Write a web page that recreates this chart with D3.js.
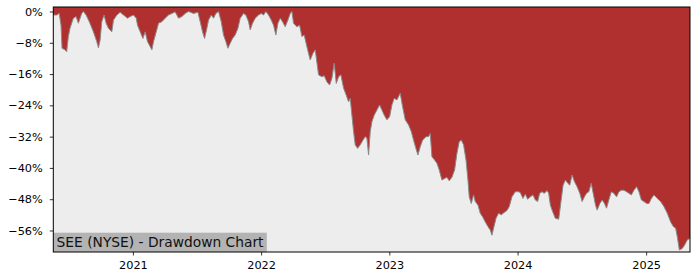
<!DOCTYPE html>
<html>
<head>
<meta charset="utf-8">
<script src="https://cdn.jsdelivr.net/npm/d3@7"></script>
<style>
  html, body { margin: 0; padding: 0; background: #fff; }
  svg { display: block; font-family: "DejaVu Sans", sans-serif; }
</style>
</head>
<body>
<div id="chart"></div>
<script>
// drawdown of SEE (decimal year, percent below peak)
const years = [
  2020.381, 2020.407, 2020.427, 2020.441, 2020.449, 2020.472, 2020.485, 2020.498, 2020.511, 2020.537,
  2020.558, 2020.576, 2020.602, 2020.615, 2020.636, 2020.661, 2020.693, 2020.719, 2020.732, 2020.745,
  2020.758, 2020.776, 2020.792, 2020.810, 2020.836, 2020.849, 2020.875, 2020.901, 2020.927, 2020.958,
  2020.979, 2021.005, 2021.026, 2021.036, 2021.057, 2021.078, 2021.096, 2021.114, 2021.135, 2021.148,
  2021.161, 2021.182, 2021.200, 2021.226, 2021.252, 2021.278, 2021.304, 2021.330, 2021.356, 2021.382,
  2021.408, 2021.434, 2021.473, 2021.507, 2021.525, 2021.543, 2021.559, 2021.577, 2021.590, 2021.611,
  2021.629, 2021.647, 2021.668, 2021.689, 2021.707, 2021.725, 2021.741, 2021.759, 2021.777, 2021.798,
  2021.819, 2021.837, 2021.863, 2021.881, 2021.902, 2021.915, 2021.933, 2021.954, 2021.980, 2022.001,
  2022.019, 2022.037, 2022.058, 2022.079, 2022.097, 2022.115, 2022.131, 2022.149, 2022.167, 2022.188,
  2022.209, 2022.227, 2022.240, 2022.253, 2022.279, 2022.300, 2022.318, 2022.336, 2022.357, 2022.383,
  2022.404, 2022.422, 2022.448, 2022.474, 2022.492, 2022.513, 2022.534, 2022.552, 2022.570, 2022.586,
  2022.604, 2022.622, 2022.643, 2022.664, 2022.682, 2022.695, 2022.708, 2022.721, 2022.734, 2022.752,
  2022.773, 2022.794, 2022.812, 2022.825, 2022.838, 2022.851, 2022.864, 2022.882, 2022.903, 2022.924,
  2022.942, 2022.960, 2022.981, 2023.002, 2023.020, 2023.038, 2023.059, 2023.085, 2023.103, 2023.124,
  2023.150, 2023.171, 2023.189, 2023.207, 2023.223, 2023.241, 2023.259, 2023.286, 2023.306, 2023.319,
  2023.332, 2023.353, 2023.371, 2023.389, 2023.410, 2023.431, 2023.449, 2023.467, 2023.488, 2023.509,
  2023.527, 2023.545, 2023.561, 2023.579, 2023.598, 2023.613, 2023.623, 2023.639, 2023.657, 2023.670,
  2023.691, 2023.709, 2023.727, 2023.748, 2023.769, 2023.787, 2023.800, 2023.816, 2023.832, 2023.852,
  2023.873, 2023.891, 2023.917, 2023.935, 2023.956, 2023.982, 2024.008, 2024.021, 2024.042, 2024.060,
  2024.078, 2024.099, 2024.120, 2024.138, 2024.156, 2024.172, 2024.190, 2024.208, 2024.229, 2024.242,
  2024.255, 2024.273, 2024.294, 2024.320, 2024.339, 2024.354, 2024.372, 2024.390, 2024.406, 2024.424,
  2024.442, 2024.463, 2024.484, 2024.502, 2024.520, 2024.536, 2024.554, 2024.573, 2024.588, 2024.606,
  2024.619, 2024.640, 2024.658, 2024.676, 2024.692, 2024.710, 2024.729, 2024.749, 2024.770, 2024.788,
  2024.807, 2024.827, 2024.848, 2024.866, 2024.885, 2024.905, 2024.926, 2024.944, 2024.963, 2024.983,
  2025.004, 2025.022, 2025.041, 2025.061, 2025.087, 2025.113, 2025.139, 2025.165, 2025.191, 2025.212,
  2025.230, 2025.243, 2025.259, 2025.282, 2025.300, 2025.321, 2025.342
];
const drawdown = [
  -0.9, -0.9, -0.5, -3.5, -9.4, -9.8, -10.3, -6.4, -4.3, -1.7,
  -1.3, -3.0, -0.5, 0, -0.9, -2.6, -5.2, -7.7, -9.3, -7.3,
  -2.6, -0.9, -3.0, -4.3, -5.2, -2.2, -0.9, -0.2, -0.9, -1.7,
  -1.3, -0.9, -1.7, -3.5, -5.2, -6.9, -5.2, -7.7, -9.0, -9.8,
  -7.7, -5.2, -3.0, -2.6, -1.7, -0.9, -0.5, -0.1, -1.7, -1.3,
  -0.5, 0, -0.5, -0.2, -2.6, -5.2, -6.9, -4.3, -2.2, -0.9,
  -1.7, -0.5, 0, -2.6, -6.0, -7.7, -9.4, -8.1, -6.9, -6.0,
  -4.3, -1.7, -0.5, -0.9, -2.6, -4.7, -3.0, -1.7, -0.9, -0.5,
  -0.9, 0, -0.9, -2.2, -3.5, -6.0, -3.0, -1.7, -2.6, -3.9,
  -2.2, -0.5, 0, -3.0, -3.9, -3.5, -6.4, -6.0, -9.0, -12.4,
  -10.7, -9.8, -16.2, -16.7, -16.4, -18.0, -18.8, -17.1, -13.2, -18.4,
  -16.7, -16.2, -19.6, -21.4, -23.1, -22.2, -26.5, -30.7, -34.1, -35.0,
  -34.1, -32.9, -32.0, -32.4, -36.7, -30.7, -28.2, -26.5, -25.2, -23.9,
  -25.2, -26.5, -27.7, -26.9, -23.9, -22.2, -22.6, -20.9, -24.3, -27.7,
  -29.0, -30.7, -32.9, -35.0, -36.7, -34.6, -32.9, -32.0, -32.0, -31.2,
  -37.1, -38.0, -38.8, -40.5, -43.1, -42.7, -42.4, -43.3, -42.4, -40.5,
  -36.3, -33.3, -32.9, -34.1, -38.0, -43.1, -47.4, -49.1, -46.9, -48.6,
  -49.5, -51.6, -52.5, -53.8, -55.0, -55.9, -57.2, -55.0, -52.9, -51.6,
  -52.0, -51.5, -50.9, -49.9, -47.4, -46.1, -46.1, -46.3, -47.8, -46.7,
  -48.0, -47.4, -46.9, -48.2, -48.6, -46.5, -46.1, -46.5, -45.8, -46.5,
  -49.5, -51.2, -52.9, -53.1, -48.2, -44.4, -43.1, -43.9, -44.4, -41.8,
  -43.5, -44.8, -46.5, -48.6, -47.4, -46.5, -46.1, -43.9, -46.5, -49.5,
  -50.8, -49.1, -48.2, -49.1, -50.3, -48.2, -46.1, -46.5, -47.4, -46.1,
  -45.7, -45.7, -46.1, -46.5, -46.9, -45.7, -44.8, -46.1, -48.2, -48.6,
  -49.1, -49.1, -47.8, -46.9, -47.8, -48.6, -49.9, -51.6, -53.8, -55.0,
  -55.4, -57.6, -61.0, -60.6, -59.7, -58.4, -58.0
];
const yTicks = [0, -8, -16, -24, -32, -40, -48, -56];
const yLimits = [-61.5, 1.15];
const chartLabel = "SEE (NYSE) - Drawdown Chart";

const width = 700, height = 280;
const margin = { top: 7, right: 10, bottom: 28, left: 53.3 };

function decYearToDate(t) {
  const y = Math.floor(t);
  const start = Date.UTC(y, 0, 1), end = Date.UTC(y + 1, 0, 1);
  return new Date(start + (t - y) * (end - start));
}

const data = years.map((t, i) => ({ date: decYearToDate(t), value: drawdown[i] }));

const x = d3.scaleUtc()
  .domain(d3.extent(data, d => d.date))
  .range([margin.left, width - margin.right]);

const y = d3.scaleLinear()
  .domain(yLimits)
  .range([height - margin.bottom, margin.top]);

const svg = d3.select('#chart').append('svg')
  .attr('width', width)
  .attr('height', height);

// plot background
svg.append('rect')
  .attr('x', margin.left).attr('y', margin.top)
  .attr('width', width - margin.right - margin.left)
  .attr('height', height - margin.bottom - margin.top)
  .attr('fill', '#ededed');

// red area from top of the axes down to the drawdown
const area = d3.area()
  .x(d => x(d.date))
  .y0(margin.top)
  .y1(d => y(d.value));

svg.append('path')
  .datum(data)
  .attr('d', area)
  .attr('fill', '#b03030');

const line = d3.line()
  .x(d => x(d.date))
  .y(d => y(d.value));

svg.append('path')
  .datum(data)
  .attr('d', line)
  .attr('fill', 'none')
  .attr('stroke', '#8a8a8a')
  .attr('stroke-width', 1);

// label box
const label = svg.append('g');
const labelText = label.append('text')
  .attr('x', margin.left + 3.3)
  .attr('y', 246.7)
  .attr('font-size', 13.8)
  .attr('fill', '#111')
  .text(chartLabel);
const tw = labelText.node().getComputedTextLength();
label.insert('rect', 'text')
  .attr('x', margin.left)
  .attr('y', 232.7)
  .attr('width', tw + 6.6)
  .attr('height', height - margin.bottom - 232.7)
  .attr('fill', '#b3b3b3');

// axes
const fmtPct = v => (v < 0 ? '\u2212' + Math.abs(v) : v) + '%';

const yAxis = svg.append('g')
  .attr('transform', `translate(${margin.left},0)`)
  .call(d3.axisLeft(y).tickValues(yTicks).tickFormat(fmtPct).tickSize(3.5).tickPadding(7));

const xAxis = svg.append('g')
  .attr('transform', `translate(0,${height - margin.bottom})`)
  .call(d3.axisBottom(x).ticks(d3.utcYear.every(1)).tickFormat(d3.utcFormat('%Y')).tickSize(3.5).tickPadding(5));

[yAxis, xAxis].forEach(g => {
  g.select('.domain').remove();
  g.selectAll('line').attr('stroke', '#000').attr('stroke-width', 0.8);
  g.selectAll('text').attr('font-size', 11.3).attr('fill', '#000')
    .attr('font-family', '"DejaVu Sans", sans-serif');
});

// frame
svg.append('rect')
  .attr('x', margin.left).attr('y', margin.top)
  .attr('width', width - margin.right - margin.left)
  .attr('height', height - margin.bottom - margin.top)
  .attr('fill', 'none')
  .attr('stroke', '#000')
  .attr('stroke-width', 1);
</script>
</body>
</html>
